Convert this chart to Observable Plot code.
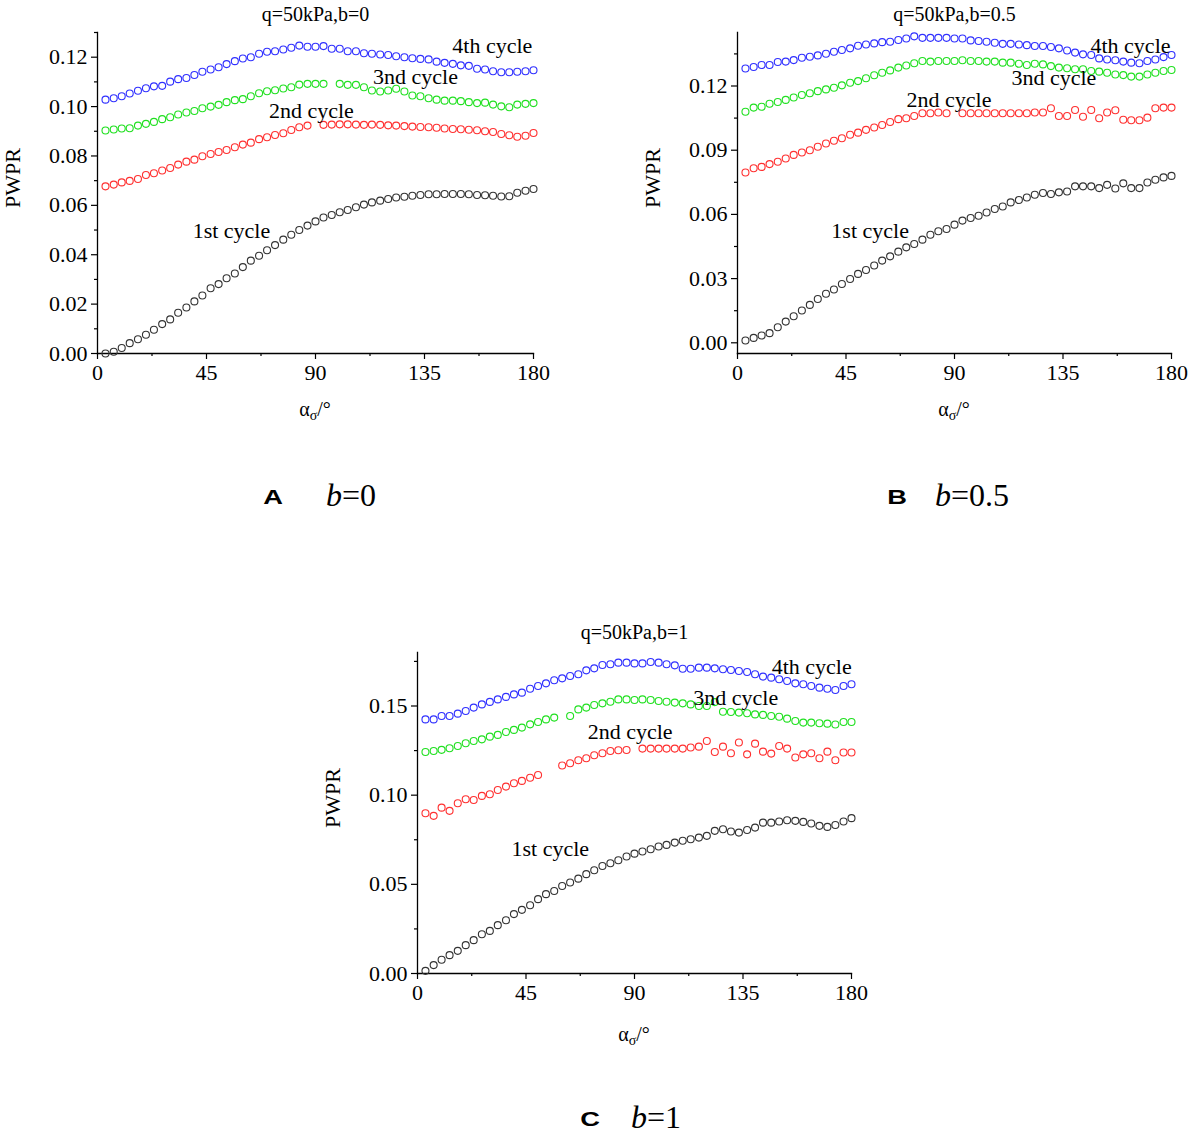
<!DOCTYPE html>
<html><head><meta charset="utf-8">
<script src="https://cdn.jsdelivr.net/npm/d3@7"></script>
<script src="https://cdn.jsdelivr.net/npm/@observablehq/plot@0.6"></script>
<style>
html,body{margin:0;padding:0;background:#fff;}
#root{position:relative;width:1188px;height:1140px;background:#fff;overflow:hidden;}
.panel{position:absolute;}
</style></head>
<body><div id="root"></div>
<script>
// ---------- data ----------
const angles = [3.3,6.7,10,13.3,16.7,20,23.3,26.7,30,33.3,36.7,40,43.3,46.7,50,53.3,56.7,60,63.3,66.7,70,73.3,76.7,80,83.3,86.7,90,93.3,96.7,100,103.3,106.7,110,113.3,116.7,120,123.3,126.7,130,133.3,136.7,140,143.3,146.7,150,153.3,156.7,160,163.3,166.7,170,173.3,176.7,180];
const cycles = ["1st cycle","2nd cycle","3nd cycle","4th cycle"];
const cycleColors = ["#333333","#ff3030","#20e020","#3030ff"];

// Panel A: q=50kPa, b=0
const a1st = [0.0000,0.0007,0.0022,0.0042,0.0058,0.0076,0.0096,0.0119,0.0138,0.0165,0.0186,0.0211,0.0235,0.0264,0.0281,0.0305,0.0324,0.0350,0.0376,0.0396,0.0418,0.0439,0.0461,0.0481,0.0500,0.0518,0.0535,
  0.0551,0.0561,0.0572,0.0581,0.0592,0.0603,0.0612,0.0619,0.0626,0.0632,0.0635,0.0639,0.0642,0.0645,0.0645,0.0646,0.0646,0.0646,0.0645,0.0642,0.0641,0.0639,0.0636,0.0637,0.0651,0.0659,0.0666];
const a2nd = [0.0677,0.0684,0.0693,0.0699,0.0707,0.0723,0.0730,0.0741,0.0751,0.0765,0.0777,0.0785,0.0799,0.0808,0.0816,0.0824,0.0835,0.0846,0.0854,0.0868,0.0876,0.0885,0.0892,0.0905,0.0916,0.0923,null,
  0.0926,0.0927,0.0928,0.0928,0.0927,0.0926,0.0927,0.0926,0.0924,0.0923,0.0921,0.0919,0.0917,0.0916,0.0914,0.0911,0.0909,0.0908,0.0906,0.0904,0.0900,0.0897,0.0889,0.0884,0.0878,0.0882,0.0893];
const a3rd = [0.0903,0.0907,0.0911,0.0912,0.0923,0.0930,0.0938,0.0949,0.0957,0.0968,0.0976,0.0982,0.0993,0.1000,0.1007,0.1018,0.1026,0.1030,0.1042,0.1054,0.1062,0.1066,0.1073,0.1078,0.1089,0.1092,0.1092,
  0.1092,null,0.1092,0.1088,0.1088,0.1078,0.1065,0.1061,0.1065,0.1072,0.1061,0.1045,0.1042,0.1034,0.1028,0.1024,0.1024,0.1022,0.1018,0.1014,0.1016,0.1008,0.1001,0.0997,0.1008,0.1011,0.1014];
const a4th = [0.1028,0.1034,0.1042,0.1053,0.1064,0.1074,0.1082,0.1084,0.1101,0.1111,0.1116,0.1128,0.1141,0.1150,0.1159,0.1172,0.1184,0.1195,0.1200,0.1214,0.1222,0.1224,0.1231,0.1238,0.1247,0.1242,0.1242,
  0.1245,0.1234,0.1234,0.1224,0.1224,0.1216,0.1214,0.1211,0.1209,0.1204,0.1200,0.1196,0.1193,0.1191,0.1182,0.1177,0.1173,0.1167,0.1165,0.1153,0.1150,0.1143,0.1139,0.1139,0.1141,0.1143,0.1147];

// Panel B: q=50kPa, b=0.5
const b1st = [0.0011,0.0023,0.0034,0.0045,0.0073,0.0099,0.0124,0.0151,0.0177,0.0205,0.0229,0.0249,0.0275,0.0298,0.0322,0.0340,0.0361,0.0384,0.0404,0.0426,0.0446,0.0462,0.0482,0.0505,0.0521,0.0532,0.0552,
  0.0571,0.0583,0.0594,0.0609,0.0625,0.0637,0.0656,0.0667,0.0679,0.0692,0.0700,0.0695,0.0703,0.0707,0.0731,0.0731,0.0731,0.0723,0.0738,0.0721,0.0745,0.0723,0.0723,0.0749,0.0762,0.0773,0.0780];
const b2nd = [0.0796,0.0816,0.0822,0.0835,0.0846,0.0861,0.0878,0.0889,0.0900,0.0916,0.0931,0.0944,0.0956,0.0972,0.0982,0.0995,0.1006,0.1018,0.1032,0.1045,0.1049,0.1060,0.1073,0.1073,0.1076,0.1073,null,
  0.1073,0.1073,0.1073,0.1073,0.1073,0.1073,0.1073,0.1073,0.1073,0.1076,0.1076,0.1096,0.1060,0.1060,0.1088,0.1056,0.1088,0.1049,0.1076,0.1087,0.1042,0.1040,0.1040,0.1052,0.1096,0.1099,0.1099];
const b3rd = [0.1080,0.1099,0.1103,0.1117,0.1125,0.1135,0.1146,0.1158,0.1166,0.1176,0.1184,0.1192,0.1203,0.1215,0.1223,0.1236,0.1250,0.1262,0.1273,0.1286,0.1296,0.1306,0.1317,0.1314,0.1317,0.1317,0.1317,
  0.1320,0.1317,0.1317,0.1314,0.1314,0.1309,0.1309,0.1304,0.1298,0.1304,0.1301,0.1293,0.1286,0.1283,0.1278,0.1278,0.1270,0.1267,0.1262,0.1254,0.1251,0.1244,0.1244,0.1254,0.1262,0.1270,0.1275];
const b4th = [0.1282,0.1289,0.1298,0.1298,0.1312,0.1314,0.1321,0.1332,0.1337,0.1343,0.1351,0.1360,0.1368,0.1376,0.1388,0.1394,0.1399,0.1405,0.1407,0.1415,0.1422,0.1432,0.1425,0.1425,0.1425,0.1425,0.1422,
  0.1422,0.1413,0.1410,0.1407,0.1402,0.1397,0.1397,0.1394,0.1391,0.1387,0.1387,0.1382,0.1376,0.1366,0.1356,0.1348,0.1345,0.1329,0.1324,0.1320,0.1314,0.1309,0.1306,0.1317,0.1324,0.1335,0.1345];

// Panel C: q=50kPa, b=1
const c1st = [0.0015,0.0047,0.0077,0.0103,0.0127,0.0159,0.0187,0.0220,0.0239,0.0271,0.0299,0.0333,0.0357,0.0383,0.0417,0.0445,0.0463,0.0491,0.0510,0.0532,0.0557,0.0579,0.0603,0.0618,0.0635,0.0656,0.0672,
  0.0684,0.0697,0.0712,0.0721,0.0734,0.0744,0.0753,0.0762,0.0772,0.0800,0.0809,0.0796,0.0790,0.0805,0.0818,0.0846,0.0846,0.0852,0.0859,0.0856,0.0850,0.0841,0.0828,0.0822,0.0833,0.0852,0.0871];
const c2nd = [0.0899,0.0884,0.0930,0.0912,0.0955,0.0977,0.0973,0.0996,0.1005,0.1029,0.1048,0.1067,0.1080,0.1098,0.1113,null,null,0.1166,0.1179,0.1196,0.1207,0.1224,0.1235,0.1248,0.1252,0.1253,null,
  0.1261,0.1261,0.1261,0.1261,0.1261,0.1261,0.1267,0.1272,0.1304,0.1242,0.1272,0.1235,0.1295,0.1229,0.1289,0.1244,0.1233,0.1276,0.1261,0.1211,0.1229,0.1235,0.1207,0.1244,0.1196,0.1239,0.1239];
const c3rd = [0.1242,0.1248,0.1254,0.1263,0.1276,0.1291,0.1304,0.1313,0.1328,0.1338,0.1354,0.1366,0.1379,0.1397,0.1410,0.1425,0.1435,null,0.1444,0.1481,0.1491,0.1506,0.1515,0.1524,0.1537,0.1537,0.1534,
  0.1537,0.1534,0.1528,0.1524,0.1519,0.1515,0.1509,0.1500,0.1500,0.1522,0.1468,0.1466,0.1463,0.1459,0.1453,0.1450,0.1444,0.1440,0.1429,0.1416,0.1407,0.1407,0.1403,0.1401,0.1396,0.1410,0.1410];
const c4th = [0.1425,0.1425,0.1444,0.1444,0.1457,0.1472,0.1491,0.1509,0.1523,0.1537,0.1551,0.1565,0.1575,0.1597,0.1612,0.1627,0.1644,0.1655,0.1668,0.1678,0.1700,0.1711,0.1730,0.1734,0.1743,0.1743,0.1739,
  0.1739,0.1747,0.1743,0.1734,0.1728,0.1709,0.1709,0.1715,0.1715,0.1711,0.1706,0.1702,0.1696,0.1691,0.1678,0.1665,0.1659,0.1650,0.1640,0.1627,0.1622,0.1612,0.1603,0.1597,0.1590,0.1612,0.1622];

// series label anchors (angle, PWPR) for each panel
const aLabelX = [55.3,88.3,131.3,163], aLabelY = [0.0498,0.0984,0.1118,0.1244];
const bLabelX = [55,87.7,131.2,163],   bLabelY = [0.0524,0.1135,0.1239,0.1387];
const cLabelX = [55.1,88.2,132,163.5], cLabelY = [0.0699,0.1355,0.1547,0.1721];

// axis ticks
const xMajor = [0,45,90,135,180], xMinor = [22.5,67.5,112.5,157.5];
const aYMajor = [0,0.02,0.04,0.06,0.08,0.10,0.12], aYMinor = [0.01,0.03,0.05,0.07,0.09,0.11,0.13];
const bYMajor = [0,0.03,0.06,0.09,0.12], bYMinor = [0.015,0.045,0.075,0.105,0.135];
const cYMajor = [0,0.05,0.10,0.15], cYMinor = [0.025,0.075,0.125,0.175];

const titles = ["q=50kPa,b=0","q=50kPa,b=0.5","q=50kPa,b=1"];
const captionLetters = ["A","B","C"], captionValues = ["0","0.5","1"];

// ---------- drawing ----------
const SERIF = '"Liberation Serif","Times New Roman",serif';
const SANS = '"Liberation Sans",Arial,sans-serif';
function rows(series){
  const out = [];
  series.forEach((vals, k) => vals.forEach((v, i) => { if (v != null) out.push({angle: angles[i], value: v, cycle: cycles[k]}); }));
  return out;
}
function panel(opt){
  const data = rows(opt.series);
  const labels = cycles.map((c, k) => ({text: c, x: opt.lx[k], y: opt.ly[k]}));
  const svg = Plot.plot({
    width: opt.width, height: 430,
    marginLeft: 97, marginRight: opt.marginRight, marginTop: 32, marginBottom: 77,
    style: {fontFamily: SERIF, fontSize: "22px", color: "#000", background: "#fff", overflow: "visible"},
    x: {domain: [0,180], axis: null},
    y: {domain: opt.ydomain, axis: null},
    color: {domain: cycles, range: cycleColors},
    marks: [
      Plot.frame({anchor: "left", stroke: "#000", strokeWidth: 1.3}),
      Plot.frame({anchor: "bottom", stroke: "#000", strokeWidth: 1.3}),
      Plot.axisX({ticks: xMajor, tickSize: 6, tickPadding: 5, tickFormat: d3.format("d"), fontSize: 22, label: null, strokeWidth: 1.2}),
      Plot.axisX({ticks: xMinor, tickSize: 3, tickFormat: () => "", label: null, strokeWidth: 1.2}),
      Plot.axisY({ticks: opt.yMajor, tickSize: 6, tickPadding: 4, tickFormat: d3.format(".2f"), fontSize: 22, label: null, strokeWidth: 1.2}),
      Plot.axisY({ticks: opt.yMinor, tickSize: 3, tickFormat: () => "", label: null, strokeWidth: 1.2}),
      Plot.dot(data, {x: "angle", y: "value", stroke: "cycle", fill: "none", r: 3.5, strokeWidth: 1.1}),
      Plot.text(labels, {x: "x", y: "y", text: "text", fontSize: 22, fill: "#000"}),
      Plot.text([opt.title], {frameAnchor: "top", lineAnchor: "middle", dy: opt.titleDy, fontSize: 20, fill: "#000"}),
      Plot.text(["PWPR"], {frameAnchor: "left", lineAnchor: "middle", dx: -85, dy: 15, rotate: -90, fontSize: 22, fill: "#000"})
    ]
  });
  const s = d3.select(svg);
  const plotW = opt.width - 97 - opt.marginRight;
  // x-axis title with subscript
  const t = s.append("text")
    .attr("x", 97 + plotW / 2).attr("y", 353 + opt.xlabOff)
    .attr("text-anchor", "middle").attr("font-family", SERIF).attr("font-size", 20).attr("fill", "#000");
  t.append("tspan").text("α");
  t.append("tspan").attr("font-size", 14).attr("dy", 4).text("σ");
  t.append("tspan").attr("dy", -4).text("/°");
  // panel caption (letter + b value)
  const cy = opt.capY;
  s.append("text").attr("x", opt.capLetterX).attr("y", cy - 2)
    .attr("font-family", SANS).attr("font-weight", "bold").attr("font-size", 21)
    .attr("text-anchor", "middle").attr("fill", "#000")
    .attr("transform", `translate(${opt.capLetterX},0) scale(1.3,1) translate(${-opt.capLetterX},0)`)
    .text(opt.capLetter);
  const ct = s.append("text").attr("x", opt.capValueX).attr("y", cy)
    .attr("text-anchor", "start")
    .attr("font-family", SERIF).attr("font-size", 32).attr("fill", "#000");
  ct.append("tspan").attr("font-style", "italic").text("b");
  ct.append("tspan").text("=" + opt.capValue);
  const div = document.createElement("div");
  div.className = "panel";
  div.style.left = opt.left + "px"; div.style.top = opt.top + "px";
  div.appendChild(svg);
  document.getElementById("root").appendChild(div);
}

panel({left: 0, top: 0, width: 560, marginRight: 27, ydomain: [0,0.13], yMajor: aYMajor, yMinor: aYMinor,
  series: [a1st,a2nd,a3rd,a4th], lx: aLabelX, ly: aLabelY, title: titles[0], titleDy: -18, xlabOff: 63,
  capLetter: captionLetters[0], capValue: captionValues[0], capLetterX: 273, capValueX: 326, capY: 506});
panel({left: 640, top: 0, width: 548, marginRight: 17, ydomain: [-0.005,0.145], yMajor: bYMajor, yMinor: bYMinor,
  series: [b1st,b2nd,b3rd,b4th], lx: bLabelX, ly: bLabelY, title: titles[1], titleDy: -18, xlabOff: 63,
  capLetter: captionLetters[1], capValue: captionValues[1], capLetterX: 257, capValueX: 295, capY: 506});
panel({left: 320, top: 620, width: 551, marginRight: 20, ydomain: [0,0.18], yMajor: cYMajor, yMinor: cYMinor,
  series: [c1st,c2nd,c3rd,c4th], lx: cLabelX, ly: cLabelY, title: titles[2], titleDy: -20, xlabOff: 68,
  capLetter: captionLetters[2], capValue: captionValues[2], capLetterX: 270, capValueX: 311, capY: 1128 - 620});
</script>
</body></html>
